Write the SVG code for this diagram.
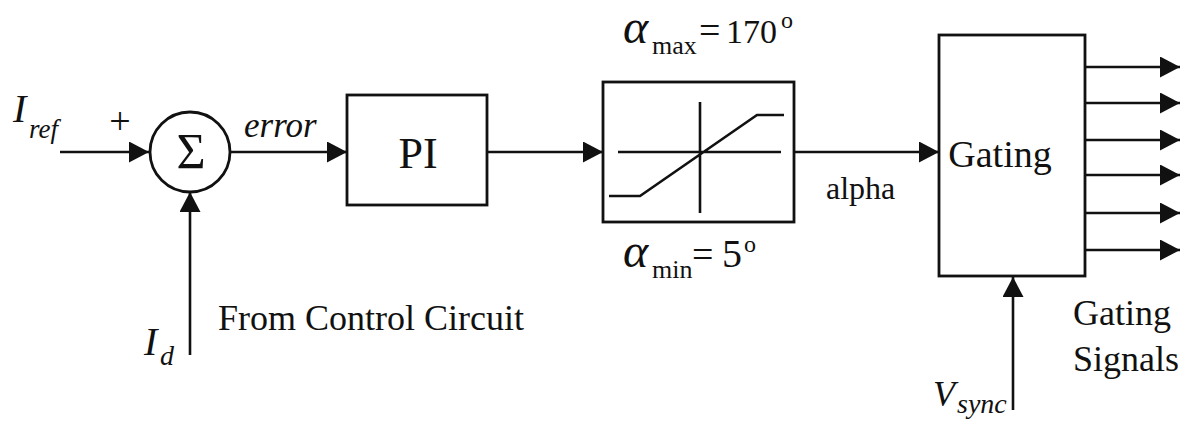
<svg xmlns="http://www.w3.org/2000/svg" width="1192" height="421" viewBox="0 0 1192 421">
<style>
.ln{stroke:#111;stroke-width:2.6;fill:none}
.bx{stroke:#111;stroke-width:2.8;fill:#fff}
.t{font-family:"Liberation Serif","Times New Roman",serif;fill:#111}
.i{font-style:italic}
</style>
<defs>
<marker id="ah" markerUnits="userSpaceOnUse" markerWidth="22" markerHeight="22" refX="20" refY="10.5" orient="auto">
<path d="M0,0 L20,10.5 L0,21 z" fill="#111"/>
</marker>
</defs>
<rect width="1192" height="421" fill="#fff"/>
<g id="connectors">
<path class="ln" d="M60,152 H149" marker-end="url(#ah)"/>
<path class="ln" d="M190,355 V192" marker-end="url(#ah)"/>
<path class="ln" d="M230,152 H347" marker-end="url(#ah)"/>
<path class="ln" d="M487,152 H603" marker-end="url(#ah)"/>
<path class="ln" d="M795,152 H939" marker-end="url(#ah)"/>
<path class="ln" d="M1013,410 V277" marker-end="url(#ah)"/>
<path class="ln" d="M1085,67 H1180" marker-end="url(#ah)"/>
<path class="ln" d="M1085,103 H1180" marker-end="url(#ah)"/>
<path class="ln" d="M1085,140 H1180" marker-end="url(#ah)"/>
<path class="ln" d="M1085,175 H1180" marker-end="url(#ah)"/>
<path class="ln" d="M1085,213 H1180" marker-end="url(#ah)"/>
<path class="ln" d="M1085,250 H1180" marker-end="url(#ah)"/>
</g>
<g id="sum">
<circle class="bx" cx="190" cy="152" r="40"/>
<text class="t" x="191" y="168" font-size="50" text-anchor="middle">Σ</text>
</g>
<g id="pi">
<rect class="bx" x="347" y="95" width="140" height="110"/>
<text class="t" x="418" y="168" font-size="44" text-anchor="middle">PI</text>
</g>
<g id="limiter">
<rect class="bx" x="603" y="82" width="191" height="140"/>
<path class="ln" d="M618,152 H781 M700,102 V213 M609,196 H640 L757,115 H784"/>
</g>
<g id="gating">
<rect class="bx" x="939" y="35" width="146" height="241"/>
<text class="t" x="1000" y="167" font-size="38" text-anchor="middle">Gating</text>
</g>
<g id="labels">
<text class="t i" x="13" y="122" font-size="40">I</text>
<text class="t i" x="29" y="138" font-size="27">ref</text>
<text class="t" x="120" y="134" font-size="38" text-anchor="middle">+</text>
<text class="t i" x="244" y="137" font-size="35">error</text>
<text class="t" x="826" y="199" font-size="32">alpha</text>
<text class="t i" x="144" y="355" font-size="40">I</text>
<text class="t i" x="160" y="365" font-size="28">d</text>
<text class="t" x="218" y="330" font-size="36">From Control Circuit</text>
<text class="t i" x="933" y="406" font-size="36">V</text>
<text class="t i" x="957" y="413" font-size="28">sync</text>
<text class="t" x="1073" y="325" font-size="36">Gating</text>
<text class="t" x="1073" y="371" font-size="36">Signals</text>
<text class="t i" x="623" y="43" font-size="48">α</text>
<text class="t" x="652" y="54" font-size="26">max</text>
<text class="t" x="699" y="43" font-size="38">=</text>
<text class="t" x="726" y="43" font-size="34">170</text>
<text class="t" x="781" y="28" font-size="24">o</text>
<text class="t i" x="623" y="267" font-size="48">α</text>
<text class="t" x="652" y="278" font-size="26">min</text>
<text class="t" x="692" y="267" font-size="38">=</text>
<text class="t" x="722" y="267" font-size="40">5</text>
<text class="t" x="744" y="252" font-size="24">o</text>
</g>
</svg>
